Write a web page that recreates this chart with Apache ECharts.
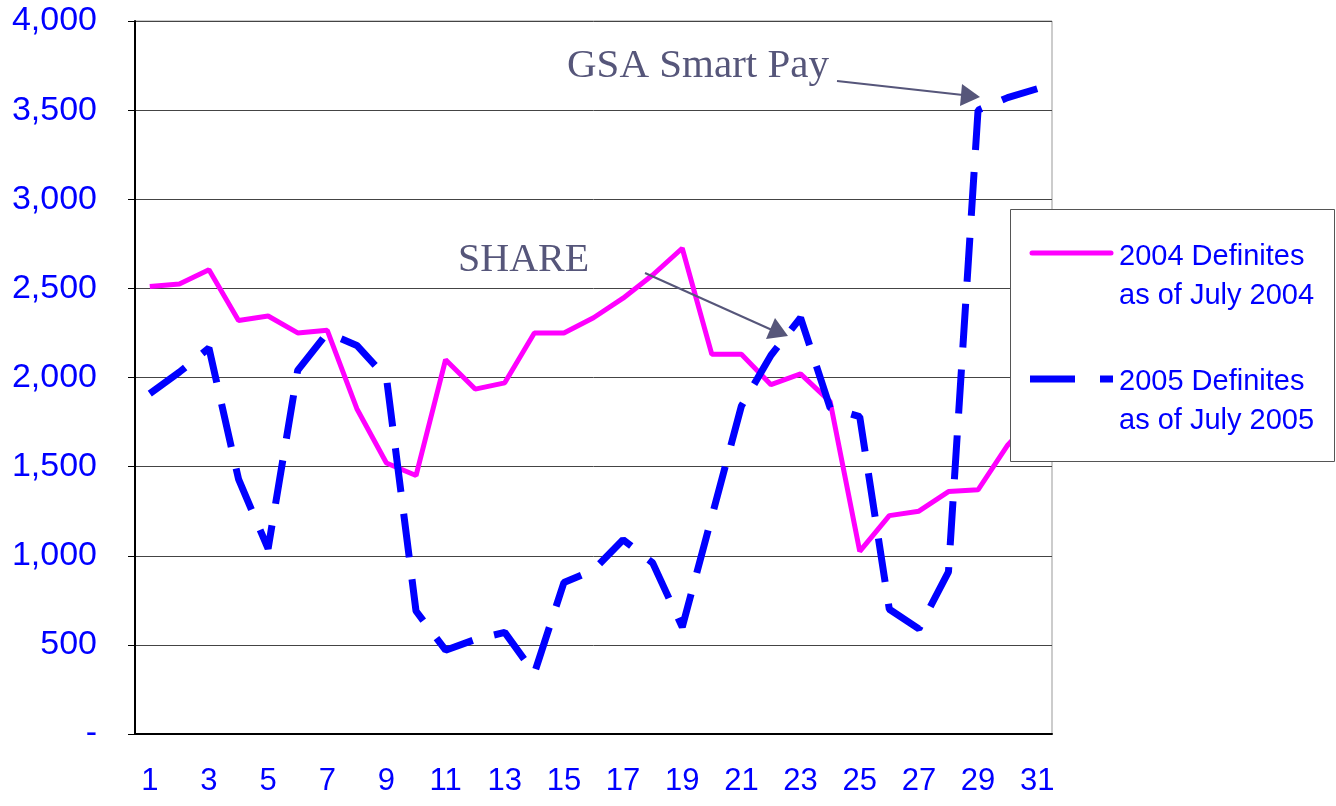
<!DOCTYPE html>
<html>
<head>
<meta charset="utf-8">
<script src="https://cdn.jsdelivr.net/npm/echarts@6/dist/echarts.min.js"></script>
<style>
  html, body { margin: 0; padding: 0; background: #fff; }
  #chart { width: 1336px; height: 806px; }
</style>
</head>
<body>
<div id="chart"></div>
<script>
// days of the month
const days = [];
for (let d = 1; d <= 31; d++) days.push(String(d));

const name2004 = '2004 Definites\nas of July 2004';
const name2005 = '2005 Definites\nas of July 2005';

const definites2004 = [2510, 2525, 2605, 2320, 2345, 2250, 2265, 1825, 1520, 1450,
  2100, 1935, 1970, 2250, 2250, 2335, 2445, 2575, 2725, 2130,
  2130, 1960, 2020, 1865, 1025, 1225, 1250, 1360, 1370, 1620, 1800];

const definites2005 = [1910, 2030, 2165, 1430, 1040, 2040, 2250, 2180, 2000, 690,
  470, 530, 570, 340, 850, 920, 1090, 960, 600, 1220,
  1840, 2125, 2335, 1830, 1780, 700, 590, 910, 3500, 3570, 3620];

const yTicks = { min: 0, max: 4000, step: 500 };

const blue = '#0000ff';
const pink = '#ff00ff';
const noteColor = '#56567a';
const blueDash = [44, 22];

const chart = echarts.init(document.getElementById('chart'));

// legend box drawn by hand so the samples match the old layout
const legendFont = '29px "Liberation Sans"';
const legendGraphic = [
  {
    type: 'rect', z: 20,
    shape: { x: 1010.5, y: 209.5, width: 324, height: 252 },
    style: { fill: '#fff', stroke: '#555', lineWidth: 1 }
  },
  {
    type: 'line', z: 21,
    shape: { x1: 1032, y1: 253, x2: 1111, y2: 253 },
    style: { stroke: pink, lineWidth: 5, lineCap: 'round' }
  },
  {
    type: 'text', z: 21, x: 1119, y: 237,
    style: { text: name2004, fill: blue, font: legendFont, lineHeight: 39 }
  },
  {
    type: 'line', z: 21,
    shape: { x1: 1030, y1: 379, x2: 1113, y2: 379 },
    style: { stroke: blue, lineWidth: 7, lineDash: [45, 25], lineCap: 'butt' }
  },
  {
    type: 'text', z: 21, x: 1119, y: 362,
    style: { text: name2005, fill: blue, font: legendFont, lineHeight: 39 }
  }
];

chart.setOption({
  animation: false,
  backgroundColor: '#fff',
  grid: {
    left: 135, right: 284, top: 21, bottom: 72,
    show: true, borderColor: '#999', borderWidth: 1
  },
  xAxis: {
    type: 'category',
    data: days,
    boundaryGap: true,
    axisLine: { lineStyle: { color: '#000', width: 2 } },
    axisTick: { interval: 0, length: 11, lineStyle: { color: '#000' } },
    axisLabel: {
      interval: 1, margin: 32, color: blue,
      fontFamily: 'Liberation Sans', fontSize: 31, lineHeight: 31
    },
    splitLine: { show: false }
  },
  yAxis: {
    type: 'value',
    min: yTicks.min, max: yTicks.max, interval: yTicks.step,
    axisLine: { show: true, lineStyle: { color: '#000', width: 2 } },
    axisTick: { show: true, length: 7, lineStyle: { color: '#000' } },
    axisLabel: {
      margin: 38, color: blue,
      fontFamily: 'Liberation Sans', fontSize: 34,
      formatter: v => v === 0 ? '-' : v.toLocaleString('en-US')
    },
    splitLine: { lineStyle: { color: '#444', width: 1 } }
  },
  series: [
    {
      name: name2004,
      type: 'line',
      data: definites2004,
      symbol: 'none',
      lineStyle: { color: pink, width: 5 },
      itemStyle: { color: pink },
      z: 2
    },
    {
      name: name2005,
      type: 'line',
      data: definites2005,
      symbol: 'none',
      lineStyle: { color: blue, width: 7, type: blueDash, cap: 'butt' },
      itemStyle: { color: blue },
      z: 3
    }
  ],
  graphic: legendGraphic.concat([
    {
      type: 'text', left: 458, top: 240, z: 10,
      style: { text: 'SHARE', fill: noteColor, font: '40px "Liberation Serif"' }
    },
    {
      type: 'text', left: 567, top: 46, z: 10,
      style: { text: 'GSA Smart Pay', fill: noteColor, font: '41px "Liberation Serif"' }
    },
    {
      type: 'line', z: 10,
      shape: { x1: 645, y1: 273, x2: 772, y2: 330 },
      style: { stroke: noteColor, lineWidth: 2 }
    },
    {
      type: 'polygon', z: 10,
      shape: { points: [[788, 336], [775, 318], [766, 339]] },
      style: { fill: noteColor }
    },
    {
      type: 'line', z: 10,
      shape: { x1: 837, y1: 81, x2: 963, y2: 95 },
      style: { stroke: noteColor, lineWidth: 2 }
    },
    {
      type: 'polygon', z: 10,
      shape: { points: [[980, 97], [962, 84], [960, 106]] },
      style: { fill: noteColor }
    }
  ])
});
</script>
</body>
</html>
